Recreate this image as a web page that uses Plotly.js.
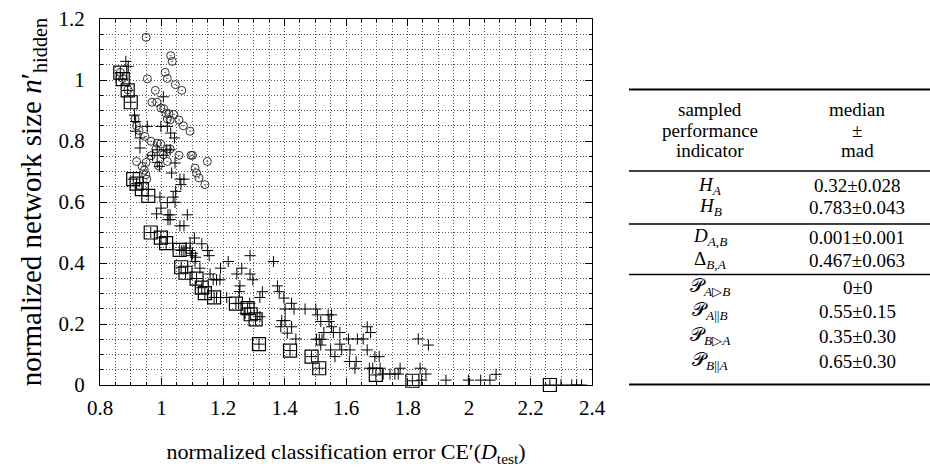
<!DOCTYPE html>
<html>
<head>
<meta charset="utf-8">
<script src="https://cdn.plot.ly/plotly-3.0.1.min.js"></script>
<style>html,body{margin:0;padding:0;background:#fff;}#chart{width:930px;height:468px;}</style>
</head>
<body>
<div id="chart"></div>
<script>
// ---- data ----
const circleX = [0.950,1.030,1.035,0.866,0.874,0.954,1.012,1.019,0.891,0.980,1.045,1.066,0.969,0.985,0.998,1.007,1.015,1.024,1.040,1.019,1.028,1.057,1.071,1.093,0.914,0.919,0.927,0.946,0.966,0.986,0.997,1.019,1.028,0.982,1.006,1.019,1.057,1.096,1.101,1.149,0.919,0.950,0.966,0.990,0.937,0.944,0.949,0.952,1.109,1.114,1.122,1.141];
const circleY = [1.140,1.080,1.061,1.025,1.005,1.004,1.025,1.005,0.968,0.966,0.985,0.966,0.927,0.927,0.908,0.906,0.890,0.890,0.887,0.872,0.869,0.869,0.850,0.832,0.872,0.850,0.835,0.815,0.799,0.793,0.791,0.774,0.774,0.774,0.755,0.733,0.753,0.753,0.753,0.733,0.733,0.730,0.752,0.719,0.717,0.704,0.690,0.675,0.711,0.695,0.679,0.657];

const plusX = [0.884,0.892,1.006,0.912,0.916,0.954,0.998,1.019,1.030,1.042,0.916,0.930,0.930,0.971,0.986,1.015,1.028,1.006,1.044,0.986,0.993,1.033,1.060,1.073,1.063,1.046,1.038,1.019,1.044,0.995,0.998,0.984,1.021,1.028,1.021,1.028,1.084,1.060,1.073,1.107,1.093,1.080,1.101,1.111,
 1.066,1.073,1.093,1.131,1.150,1.155,1.098,1.109,1.125,1.158,1.168,1.179,1.190,1.217,1.192,1.288,1.364,1.261,1.245,1.288,1.297,1.255,1.253,1.212,1.179,1.328,1.377,1.383,1.398,1.320,1.423,1.402,1.431,1.467,1.272,1.320,
 1.251,1.287,1.391,1.402,1.388,1.409,
 1.502,1.507,1.542,1.553,1.518,1.545,1.423,1.437,1.553,1.559,1.580,1.528,1.504,1.513,1.522,1.518,1.550,1.580,1.586,1.613,1.564,1.608,1.637,1.656,1.669,1.680,1.669,1.611,1.633,1.629,1.694,1.708,1.676,1.687,1.711,1.721,1.743,1.759,1.770,1.776,1.835,1.868,1.841,1.860,1.846,
 1.925,1.998,2.038,2.068,2.088,2.299,2.334,2.350,2.366];
const plusY = [1.061,1.045,0.945,0.885,0.864,0.848,0.848,0.848,0.826,0.810,0.832,0.810,0.777,0.753,0.771,0.771,0.771,0.753,0.728,0.730,0.717,0.695,0.675,0.675,0.657,0.635,0.616,0.598,0.599,0.616,0.580,0.561,0.558,0.558,0.542,0.542,0.558,0.522,0.522,0.482,0.465,0.449,0.432,0.419,
 0.441,0.441,0.441,0.463,0.441,0.424,0.424,0.405,0.383,0.364,0.345,0.345,0.345,0.405,0.383,0.424,0.405,0.383,0.364,0.364,0.345,0.325,0.306,0.287,0.287,0.306,0.325,0.306,0.285,0.287,0.268,0.249,0.249,0.249,0.235,0.224,
 0.268,0.268,0.211,0.211,0.191,0.170,
 0.249,0.230,0.230,0.230,0.208,0.208,0.191,0.151,0.191,0.172,0.172,0.172,0.150,0.150,0.150,0.131,0.115,0.134,0.115,0.115,0.093,0.151,0.151,0.151,0.191,0.172,0.115,0.077,0.077,0.055,0.093,0.093,0.055,0.055,0.055,0.036,0.036,0.036,0.036,0.055,0.151,0.131,0.055,0.036,0.016,
 0.016,0.016,0.016,0.016,0.035,0.000,0.000,0.000,0.000];

const paretoX = [0.866,0.874,0.890,0.900,0.908,0.919,0.936,0.957,0.965,0.998,1.015,1.059,1.064,1.078,1.114,1.131,1.141,1.171,1.242,1.280,1.290,1.306,1.317,1.418,1.488,1.513,1.697,1.816,2.263];
const paretoY = [1.024,1.003,0.966,0.927,0.675,0.660,0.642,0.620,0.500,0.483,0.465,0.443,0.386,0.368,0.349,0.319,0.301,0.287,0.267,0.252,0.232,0.215,0.134,0.113,0.093,0.055,0.033,0.014,0.000];

const xTickVals = [0.8,1,1.2,1.4,1.6,1.8,2,2.2,2.4];
const xTickText = ["0.8","1","1.2","1.4","1.6","1.8","2","2.2","2.4"];
const yTickVals = [0,0.2,0.4,0.6,0.8,1,1.2];
const yTickText = ["0","0.2","0.4","0.6","0.8","1","1.2"];

const tableHeadLeft = ["sampled","performance","indicator"];
const tableHeadRight = ["median","±","mad"];
const tableIndicators = ["<i>H</i><sub><i>A</i></sub>","<i>H</i><sub><i>B</i></sub>","<i>D</i><sub><i>A,B</i></sub>","Δ<sub><i>B,A</i></sub>","𝒫<sub><i>A</i>▷<i>B</i></sub>","𝒫<sub><i>A</i>||<i>B</i></sub>","𝒫<sub><i>B</i>▷<i>A</i></sub>","𝒫<sub><i>B</i>||<i>A</i></sub>"];
const tableValues = ["0.32±0.028","0.783±0.043","0.001±0.001","0.467±0.063","0±0","0.55±0.15","0.35±0.30","0.65±0.30"];

// ---- layout helpers ----
const W = 930, H = 468, L = 100, R = 338, T = 19, B = 83;
const pw = W - L - R, ph = H - T - B;
const fx = px => (px - L) / pw;
const fy = py => (H - B - py) / ph;
const FONT = "Liberation Serif";

const mk = (sym, size, lw, col) => ({symbol: sym, size: size, color: col, line: {width: lw, color: col}});

const traces = [
  {x: circleX, y: circleY, type: 'scatter', mode: 'markers', marker: mk('circle-open-dot', 8, 1, '#333'), hoverinfo: 'skip'},
  {x: plusX, y: plusY, type: 'scatter', mode: 'markers', marker: mk('cross-thin-open', 8, 1, '#000'), hoverinfo: 'skip'},
  {x: paretoX, y: paretoY, type: 'scatter', mode: 'markers', marker: mk('cross-thin-open', 8, 1, '#000'), hoverinfo: 'skip'},
  {x: paretoX, y: paretoY, type: 'scatter', mode: 'markers', marker: mk('square-open', 13, 1.2, '#000'), hoverinfo: 'skip', cliponaxis: false}
];

const axisCommon = {
  showline: true, linecolor: '#000', linewidth: 1, mirror: 'ticks',
  ticks: 'inside', ticklen: 7, tickwidth: 1, tickcolor: '#000',
  showgrid: true, gridcolor: '#555', gridwidth: 1, griddash: '1px,2px',
  zeroline: false, tickfont: {family: FONT, size: 21, color: '#000'},
  minor: {dtick: 0.05, showgrid: true, gridcolor: '#555', gridwidth: 1, griddash: '1px,2px', ticks: 'inside', ticklen: 3, tickcolor: '#000'},
  fixedrange: true
};

const annotations = [];
const tfont = {family: FONT, size: 19, color: '#000'};
const rowsHead = [109, 130, 151];
tableHeadLeft.forEach((t, i) => annotations.push({xref: 'paper', yref: 'paper', x: fx(710), y: fy(rowsHead[i]), text: t, showarrow: false, xanchor: 'center', yanchor: 'middle', font: tfont}));
tableHeadRight.forEach((t, i) => annotations.push({xref: 'paper', yref: 'paper', x: fx(857), y: fy(rowsHead[i]), text: t, showarrow: false, xanchor: 'center', yanchor: 'middle', font: tfont}));
const rowsBody = [186, 207, 237, 260, 287, 311, 336, 361];
tableIndicators.forEach((t, i) => annotations.push({xref: 'paper', yref: 'paper', x: fx(710), y: fy(rowsBody[i]), text: t, showarrow: false, xanchor: 'center', yanchor: 'middle', font: tfont}));
tableValues.forEach((t, i) => annotations.push({xref: 'paper', yref: 'paper', x: fx(857), y: fy(rowsBody[i]), text: t, showarrow: false, xanchor: 'center', yanchor: 'middle', font: tfont}));

const lineAt = (py, w) => ({type: 'line', xref: 'paper', yref: 'paper', x0: fx(629), x1: fx(930), y0: fy(py), y1: fy(py), line: {color: '#000', width: w}});
const shapes = [lineAt(89.5, 2.2), lineAt(171, 1.3), lineAt(224, 1.3), lineAt(274.5, 1.3), lineAt(384.5, 2.2)];

const layout = {
  width: W, height: H,
  margin: {l: L, r: R, t: T, b: B, pad: 0},
  paper_bgcolor: '#fff', plot_bgcolor: '#fff',
  showlegend: false,
  font: {family: FONT, size: 18, color: '#000'},
  xaxis: Object.assign({}, axisCommon, {range: [0.8, 2.4], tickvals: xTickVals, ticktext: xTickText, ticklabelstandoff: 4,
    title: {text: 'normalized classification error CE′(<i>D</i><sub>test</sub>)', font: {family: FONT, size: 22, color: '#000'}, standoff: 24}}),
  yaxis: Object.assign({}, axisCommon, {range: [0, 1.2], tickvals: yTickVals, ticktext: yTickText, ticklabelstandoff: 10,
    title: {text: 'normalized network size <i>n</i>′<sub>hidden</sub>', font: {family: FONT, size: 29, color: '#000'}, standoff: 8}}),
  annotations: annotations,
  shapes: shapes
};

Plotly.newPlot('chart', traces, layout, {staticPlot: true, displayModeBar: false});
</script>
</body>
</html>
